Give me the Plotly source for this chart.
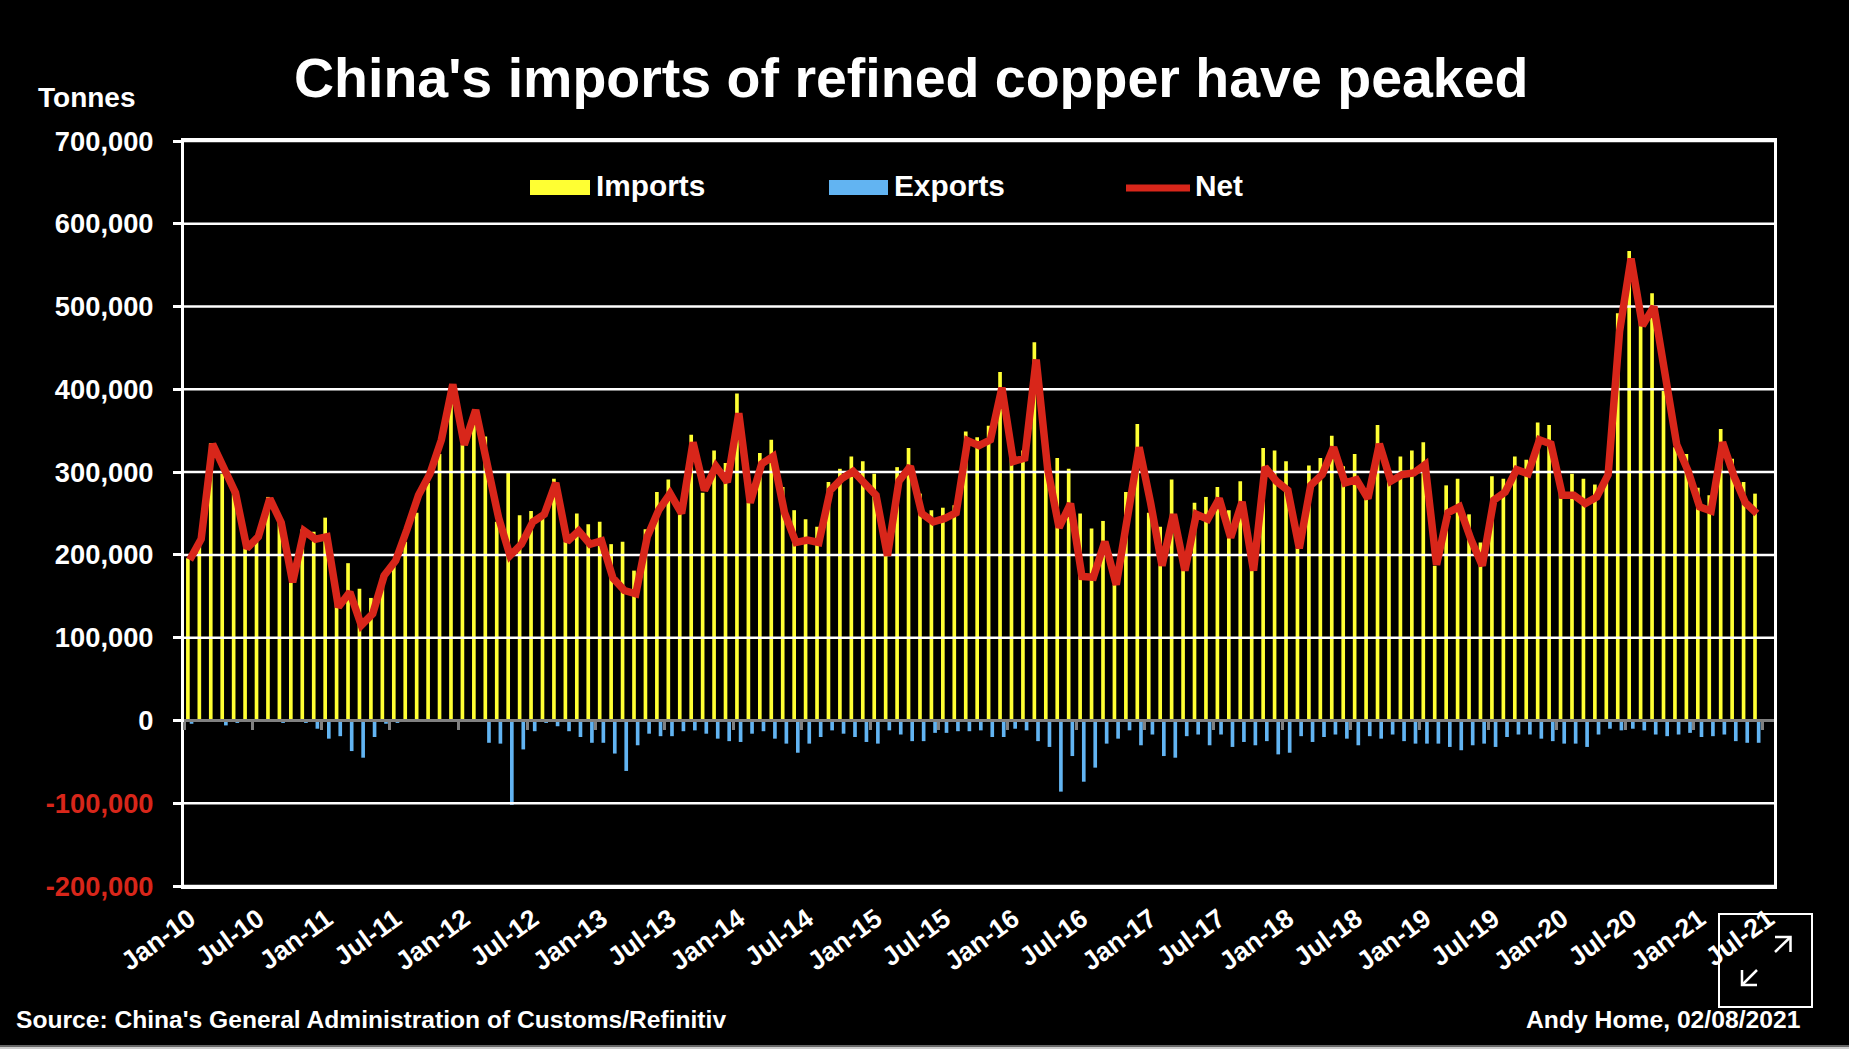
import plotly.graph_objects as go

W, H = 1849, 1049
LEFT, RIGHT, TOP, BOTTOM = 184, 1774, 141, 886

months = ["Jan", "Feb", "Mar", "Apr", "May", "Jun", "Jul", "Aug", "Sep", "Oct", "Nov", "Dec"]
dates = [f"{months[i % 12]}-{10 + i // 12}" for i in range(139)]

# thousand tonnes
imports = [196, 213, 335, 298, 277, 212, 219, 270, 240, 170, 231, 228, 245, 152, 190, 159, 148, 175, 187, 216,
           251, 287, 322, 405, 333, 357, 343, 240, 299, 248, 253, 246, 292, 216, 250, 237, 240, 213, 216, 181,
           231, 276, 291, 252, 345, 275, 326, 311, 395, 263, 323, 339, 282, 254, 243, 234, 288, 304, 319, 313,
           298, 199, 306, 329, 274, 254, 257, 260, 349, 342, 356, 421, 316, 326, 457, 304, 317, 304, 250, 232,
           241, 164, 276, 358, 251, 234, 291, 187, 263, 270, 282, 254, 289, 181, 329, 326, 313, 208, 308, 317,
           344, 307, 322, 272, 357, 292, 319, 326, 336, 187, 284, 292, 249, 215, 295, 292, 319, 315, 360, 357,
           287, 298, 292, 285, 292, 492, 567, 491, 516, 398, 330, 322, 281, 272, 352, 316, 288, 274, None]
exports = [4, 1, 1, 6, 3, 1, 1, 1, 3, 1, 3, 10, 22, 19, 37, 45, 20, 4, 3, 1,
           1, 1, 1, 1, 1, 1, 27, 28, 102, 35, 13, 3, 7, 13, 20, 27, 27, 40, 61, 30,
           16, 19, 19, 13, 12, 16, 22, 25, 26, 16, 13, 22, 28, 39, 28, 20, 12, 16, 20, 26,
           28, 12, 17, 25, 25, 15, 15, 13, 13, 12, 20, 20, 10, 12, 25, 32, 86, 43, 74, 57,
           28, 22, 12, 30, 17, 43, 45, 19, 17, 30, 17, 32, 26, 30, 25, 41, 39, 19, 26, 20,
           17, 22, 30, 19, 22, 17, 25, 28, 28, 28, 32, 36, 30, 28, 32, 20, 17, 17, 22, 25,
           28, 28, 32, 17, 10, 12, 10, 12, 17, 19, 17, 15, 20, 19, 17, 25, 27, 27, None]
net = [194, 219, 334, 304, 275, 208, 222, 268, 239, 167, 229, 219, 222, 137, 155, 115, 129, 175, 193, 231,
       272, 298, 339, 406, 333, 375, 313, 245, 199, 213, 240, 249, 287, 216, 229, 213, 217, 172, 157, 153,
       222, 254, 274, 250, 336, 278, 307, 288, 371, 263, 310, 319, 251, 215, 218, 215, 278, 292, 301, 287,
       272, 199, 289, 307, 250, 240, 244, 251, 338, 332, 339, 402, 313, 317, 436, 304, 233, 262, 174, 173,
       216, 164, 249, 330, 263, 187, 249, 181, 249, 243, 268, 221, 264, 181, 306, 289, 278, 208, 284, 297,
       330, 287, 291, 268, 334, 289, 297, 299, 309, 188, 251, 258, 219, 187, 266, 276, 303, 298, 339, 334,
       272, 272, 262, 270, 297, 470, 558, 477, 500, 415, 333, 301, 258, 253, 336, 295, 263, 250, None]

y_ticks = [700000, 600000, 500000, 400000, 300000, 200000, 100000, 0, -100000, -200000]
RED = "#d8261a"
YELLOW = "#ffff33"
BLUE = "#62b4f2"
GREY = "#808080"
FONT = "Liberation Sans"


def fx(x):
    return (x - LEFT) / (RIGHT - LEFT)


def fy(y):
    return (BOTTOM - y) / (BOTTOM - TOP)


def y_label(v):
    txt = f"{v:,}"
    if v < 0:
        return f'<span style="color:{RED}">{txt}</span>'
    return txt


idx = list(range(len(dates)))
x_lo, x_hi = -0.5, len(dates) - 0.5

# gridlines sit on top of the bars in the original, so they are a trace and not the axis grid
grid_x, grid_y = [], []
for v in y_ticks:
    if v != 0:
        grid_x += [x_lo, x_hi, None]
        grid_y += [v, v, None]

fig = go.Figure()
fig.add_bar(x=idx, y=[None if v is None else v * 1000 for v in imports], name="Imports",
            marker=dict(color=YELLOW, line_width=0), showlegend=False)
fig.add_bar(x=idx, y=[None if v is None else -v * 1000 for v in exports], name="Exports",
            marker=dict(color=BLUE, line_width=0), showlegend=False)
fig.add_scatter(x=grid_x, y=grid_y, mode="lines", line=dict(color="white", width=2.5),
                hoverinfo="skip", showlegend=False)
fig.add_scatter(x=idx, y=[None if v is None else v * 1000 for v in net], name="Net", mode="lines",
                line=dict(color=RED, width=7.5), xaxis="x2", showlegend=False)

fig.update_layout(
    width=W, height=H,
    margin=dict(l=LEFT, r=W - RIGHT, t=TOP, b=H - BOTTOM, pad=0, autoexpand=False),
    paper_bgcolor="black", plot_bgcolor="black",
    barmode="group", bargap=0.36, bargroupgap=0,
    font=dict(family=FONT, color="white", size=26),
    xaxis=dict(range=[x_lo, x_hi], tickmode="array", tickvals=idx[::6], ticktext=dates[::6],
               tickangle=-36, tickfont=dict(size=26.5, family=FONT, weight="bold", color="white"),
               ticks="", showgrid=False, zeroline=False, showline=True, linecolor="white", linewidth=3,
               mirror=True, ticklabelstandoff=4),
    xaxis2=dict(range=[x_lo, x_hi], overlaying="x", anchor="free", position=2 / 9,
                tickmode="array", tickvals=[i - 0.5 for i in idx[::6]], ticktext=[""] * len(idx[::6]),
                ticks="outside", ticklen=8, tickwidth=3, tickcolor=GREY,
                showline=True, linecolor=GREY, linewidth=3, showgrid=False, zeroline=False),
    yaxis=dict(range=[-200000, 700000], tickmode="array", tickvals=y_ticks,
               ticktext=[y_label(v) for v in y_ticks],
               tickfont=dict(size=27.3, family=FONT, weight="bold", color="white"),
               ticks="outside", ticklen=8, tickwidth=3, tickcolor="white", ticklabelstandoff=14,
               showgrid=False, zeroline=False,
               showline=True, linecolor="white", linewidth=3, mirror=True),
)


def text(s, x, y, size, anchor="left"):
    fig.add_annotation(text=s, x=fx(x), y=fy(y), xref="paper", yref="paper", showarrow=False,
                       xanchor=anchor, yanchor="middle", align=anchor,
                       font=dict(size=size, family=FONT, weight="bold", color="white"))


text("China's imports of refined copper have peaked", 292, 78, 55.5)
text("Tonnes", 36, 98, 28)
text("Source: China's General Administration of Customs/Refinitiv", 14, 1019, 24.6)
text("Andy Home, 02/08/2021", 1803, 1019, 24.7, anchor="right")

# legend keys
text("Imports", 594, 185, 29.8)
text("Exports", 892, 185, 29.8)
text("Net", 1193, 185, 29.8)
for x0, x1, col in [(530, 590, YELLOW), (829, 888, BLUE)]:
    fig.add_shape(type="rect", xref="paper", yref="paper", x0=fx(x0), x1=fx(x1), y0=fy(195), y1=fy(180),
                  fillcolor=col, line_width=0)
fig.add_shape(type="line", xref="paper", yref="paper", x0=fx(1126), x1=fx(1190), y0=fy(188), y1=fy(188),
              line=dict(color=RED, width=7))

# expand button in the corner
fig.add_shape(type="rect", xref="paper", yref="paper", x0=fx(1719), x1=fx(1812), y0=fy(1007), y1=fy(914),
              line=dict(color="white", width=2), fillcolor="rgba(0,0,0,0)")
for pts in [[(1775, 937), (1790.5, 937), (1790.5, 952)], [(1775, 952), (1790.5, 937)],
            [(1742, 970), (1742, 985), (1757, 985)], [(1742, 985), (1757, 970)]]:
    path = "M" + " L".join(f"{fx(px)},{fy(py)}" for px, py in pts)
    fig.add_shape(type="path", xref="paper", yref="paper", path=path, line=dict(color="white", width=2.5))

# thin edge along the bottom of the screenshot
fig.add_shape(type="rect", xref="paper", yref="paper", x0=fx(0), x1=fx(W), y0=fy(1047), y1=fy(1045),
              fillcolor="#666666", line_width=0)
fig.add_shape(type="rect", xref="paper", yref="paper", x0=fx(0), x1=fx(W), y0=fy(1049), y1=fy(1047),
              fillcolor="#cccccc", line_width=0)

fig.write_html("out.html", config={"displayModeBar": False},
               post_script="document.body.style.margin='0';document.body.style.background='black';")
